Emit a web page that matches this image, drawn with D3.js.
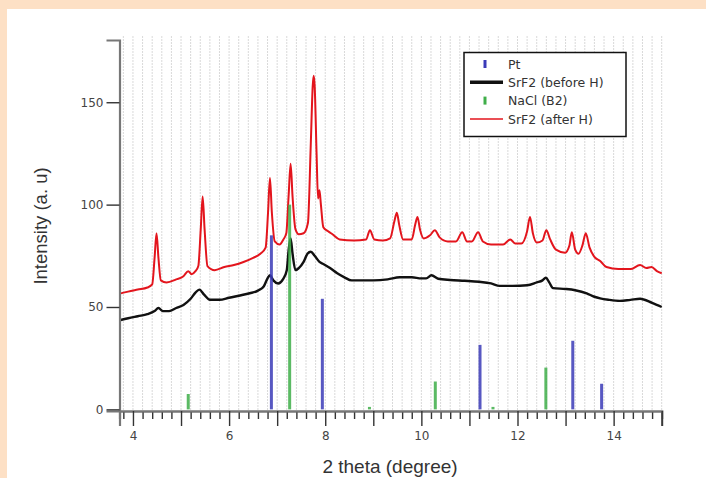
<!DOCTYPE html>
<html>
<head>
<meta charset="utf-8">
<script src="https://cdn.jsdelivr.net/npm/d3@7"></script>
<style>
  body { margin: 0; background: #fde0c5; }
  svg { display: block; font-family: "Liberation Sans", Arial, sans-serif; }
</style>
</head>
<body>
<svg id="chart" width="706" height="478"></svg>
<script>
// reference peaks (stick patterns)
var ptPos = [6.88, 7.94, 11.22, 13.15, 13.75];
var ptInt = [85, 54, 31.5, 33.5, 12.5];
var naclPos = [5.15, 7.26, 8.92, 10.29, 11.49, 12.59];
var naclInt = [7.5, 100, 1.2, 13.6, 1.2, 20.4];

// SrF2 before H (black)
var beforeX = [3.72, 3.9, 4.1, 4.3, 4.45, 4.53, 4.62, 4.75, 4.9, 5.05, 5.2, 5.3, 5.38, 5.48, 5.6, 5.8,
  6.0, 6.2, 6.43, 6.6, 6.72, 6.8, 6.85, 6.92, 7.02, 7.12, 7.2, 7.24, 7.28, 7.32, 7.38, 7.45, 7.55,
  7.63, 7.7, 7.78, 7.88, 7.96, 8.1, 8.25, 8.4, 8.55, 8.8, 9.0, 9.3, 9.55, 9.8, 10.0, 10.1, 10.21,
  10.35, 10.6, 10.9, 11.2, 11.45, 11.63, 11.9, 12.2, 12.4, 12.52, 12.59, 12.66, 12.74, 13.0, 13.2,
  13.44, 13.6, 13.72, 13.9, 14.13, 14.35, 14.55, 14.8, 15.0];
var beforeY = [43.5, 44.5, 45.5, 46.5, 48, 49.5, 48, 48, 49.5, 51, 54, 57, 58.5, 56, 53.5, 53.5,
  54.5, 55.5, 56.7, 58, 60, 64, 65.5, 63, 61.5, 63.5, 68, 78, 83.5, 76, 68, 69, 72,
  76, 77, 75, 72, 71, 69, 66.5, 64.5, 63, 63, 63, 63.5, 64.5, 64.5, 64, 64, 65.5,
  63.8, 63.2, 62.8, 62.3, 61.5, 60.3, 60.3, 60.6, 62, 63, 64.3, 62, 59.2, 58.8, 58.2,
  56.7, 55, 54.2, 53.5, 53, 53.5, 54, 52, 50];

// SrF2 after H (red)
var afterX = [3.72, 3.9, 4.1, 4.3, 4.4, 4.45, 4.49, 4.53, 4.58, 4.7, 4.9, 5.05, 5.15, 5.22, 5.3,
  5.36, 5.41, 5.45, 5.49, 5.55, 5.7, 5.9, 6.1, 6.3, 6.5, 6.65, 6.76, 6.81, 6.85, 6.89, 6.95, 7.05,
  7.13, 7.19, 7.24, 7.28, 7.32, 7.38, 7.45, 7.55, 7.64, 7.7, 7.74, 7.76, 7.78, 7.82, 7.85, 7.88,
  7.91, 7.96, 8.06, 8.15, 8.3, 8.6, 8.85, 8.93, 9.02, 9.2, 9.35, 9.44, 9.49, 9.54, 9.62, 9.8, 9.87,
  9.92, 9.97, 10.05, 10.18, 10.28, 10.38, 10.55, 10.72, 10.85, 10.95, 11.05, 11.18, 11.28, 11.45,
  11.7, 11.85, 11.95, 12.08, 12.2, 12.26, 12.32, 12.4, 12.52, 12.6, 12.68, 12.8, 12.99, 13.08,
  13.13, 13.2, 13.27, 13.35, 13.42, 13.5, 13.6, 13.72, 13.85, 14.1, 14.35, 14.55, 14.68, 14.79,
  14.9, 15.0];
var afterY = [56.5, 57.5, 58.5, 59.5, 61, 74, 86, 74, 63, 62, 63.5, 65, 67.5, 66, 67.5,
  70, 88, 104, 88, 70, 68, 69.5, 70.5, 72, 74, 76, 79, 96, 113, 96, 82, 80.5,
  83, 86, 105, 120, 104, 88, 85.5, 86, 91, 130, 158, 163, 158, 125, 103, 107,
  100, 89, 87, 85.5, 83, 82.5, 83, 87.5, 83, 82.5, 83.5, 92, 96, 90, 83, 83, 90,
  94, 88, 83.5, 85, 87.5, 84, 82, 82, 86.5, 82, 82, 86.5, 82, 80.5,
  80.5, 83, 81, 81, 87, 94, 86, 81.5, 82.5, 87.5, 83, 78, 76.5, 80,
  86.5, 78, 76, 80, 86, 79, 74.5, 72.5, 69.5, 68.5, 68.5, 70.5, 69, 69.5,
  67.5, 66.5];

var yTicks = [0, 50, 100, 150];
var legendNames = ["Pt", "SrF2 (before H)", "NaCl (B2)", "SrF2 (after H)"];

var svg = d3.select("#chart");
svg.append("rect").attr("x", 7).attr("y", 9).attr("width", 699).attr("height", 469).attr("fill", "#fff");

var x = d3.scaleLinear().domain([3.72, 15]).range([119.5, 661.7]);
var y = d3.scaleLinear().domain([-0.8, 180.4]).range([411, 40]);

// vertical grid every 0.2
var gridVals = d3.range(19, 76).map(function (i) { return i / 5; });
svg.append("g").selectAll("line").data(gridVals).enter().append("line")
    .attr("x1", function (d) { return x(d); }).attr("x2", function (d) { return x(d); })
    .attr("y1", 36).attr("y2", 410)
    .attr("stroke", "#d9d9d9").attr("stroke-width", 1).attr("stroke-dasharray", "2,1");

var line = d3.line()
    .x(function (d) { return x(d[0]); })
    .y(function (d) { return y(d[1]); })
    .curve(d3.curveMonotoneX);

svg.append("path").datum(d3.zip(beforeX, beforeY))
    .attr("d", line).attr("fill", "none").attr("stroke", "#111").attr("stroke-width", 2.4)
    .attr("stroke-linejoin", "round");
svg.append("path").datum(d3.zip(afterX, afterY))
    .attr("d", line).attr("fill", "none").attr("stroke", "#e3151d").attr("stroke-width", 2)
    .attr("stroke-linejoin", "round");

function sticks(pos, ints, color, w) {
    svg.append("g").selectAll("line").data(d3.zip(pos, ints)).enter().append("line")
        .attr("x1", function (d) { return x(d[0]); }).attr("x2", function (d) { return x(d[0]); })
        .attr("y1", y(0)).attr("y2", function (d) { return y(d[1]); })
        .attr("stroke", color).attr("stroke-width", w).attr("opacity", 0.85);
}
sticks(ptPos, ptInt, "#3b3bb8", 3);
sticks(naclPos, naclInt, "#3fae49", 3);

// axes
var minor = d3.range(19, 76).map(function (i) { return i / 5; }).filter(function (v) { return Math.abs(v - Math.round(v)) > 0.01; });
var major = d3.range(4, 16);
var xMinor = svg.append("g").attr("transform", "translate(0,411)")
    .call(d3.axisBottom(x).tickValues(minor).tickSize(8).tickFormat(""));
var xMajor = svg.append("g").attr("transform", "translate(0,411)")
    .call(d3.axisBottom(x).tickValues(major).tickSize(15).tickPadding(5)
        .tickFormat(function (d) { return d % 2 === 0 ? d : ""; }));
var yAxis = svg.append("g").attr("transform", "translate(119.5,0)")
    .call(d3.axisLeft(y).tickValues(yTicks).tickSize(13).tickPadding(3));

[xMinor, xMajor, yAxis].forEach(function (g) {
    g.select(".domain").attr("stroke", "#777").attr("stroke-width", 2.2);
    g.selectAll(".tick line").attr("stroke", "#333").attr("stroke-width", 1.4);
    g.selectAll(".tick text").attr("fill", "#444").attr("font-size", 12)
        .attr("font-family", "DejaVu Sans, Verdana, sans-serif");
});

svg.append("text").attr("x", 390).attr("y", 473).attr("text-anchor", "middle")
    .attr("font-size", 19).attr("fill", "#333").text("2 theta (degree)");
svg.append("text").attr("transform", "translate(47,226) rotate(-90)").attr("text-anchor", "middle")
    .attr("font-size", 18.5).attr("fill", "#333").text("Intensity (a. u)");

// legend
var lg = svg.append("g");
lg.append("rect").attr("x", 464).attr("y", 52.5).attr("width", 162).attr("height", 84)
    .attr("fill", "#fff").attr("stroke", "#111").attr("stroke-width", 1.5);
var rowY = [64, 82.3, 100.6, 119];
lg.append("line").attr("x1", 485).attr("x2", 485).attr("y1", rowY[0] - 4).attr("y2", rowY[0] + 4)
    .attr("stroke", "#3b3bb8").attr("stroke-width", 3);
lg.append("line").attr("x1", 470).attr("x2", 503).attr("y1", rowY[1]).attr("y2", rowY[1])
    .attr("stroke", "#111").attr("stroke-width", 3.5);
lg.append("line").attr("x1", 485).attr("x2", 485).attr("y1", rowY[2] - 4).attr("y2", rowY[2] + 4)
    .attr("stroke", "#3fae49").attr("stroke-width", 3);
lg.append("line").attr("x1", 470).attr("x2", 503).attr("y1", rowY[3]).attr("y2", rowY[3])
    .attr("stroke", "#e3151d").attr("stroke-width", 1.5);
lg.selectAll("text").data(legendNames).enter().append("text")
    .attr("x", 508).attr("y", function (d, i) { return rowY[i] + 4.5; })
    .attr("font-size", 12.5).attr("font-family", "DejaVu Sans, Verdana, sans-serif")
    .attr("fill", "#333").text(function (d) { return d; });
</script>
</body>
</html>
